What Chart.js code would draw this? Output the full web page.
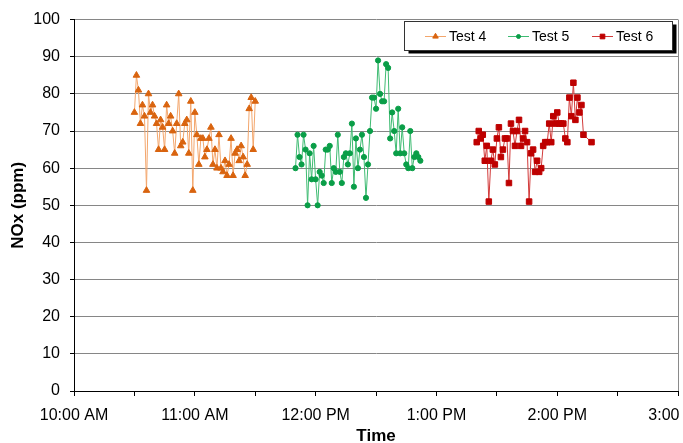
<!DOCTYPE html>
<html><head><meta charset="utf-8">
<script src="https://cdn.jsdelivr.net/npm/chart.js@4/dist/chart.umd.min.js"></script>
<style>html,body{margin:0;padding:0;background:#fff}#wrap{width:683px;height:443px}</style>
</head><body><div id="wrap"><canvas id="c" width="683" height="443"></canvas></div>
<script>
// ---- data ----
const seriesNames = ["Test 4", "Test 5", "Test 6"];
const sampleIntervalMin = 1;

const test4Start = "10:30";
const test4Values = [75, 85, 81, 72, 77, 74, 54, 80, 75, 77, 74, 72, 65, 73, 71, 65, 77, 72, 74, 70,
  64, 72, 80, 66, 67, 72, 73, 64, 78, 54, 75, 69, 61, 68, 68, 63, 65, 68, 71, 61,
  65, 60, 69, 60, 59, 62, 58, 61, 68, 58, 64, 65, 62, 66, 63, 58, 61, 76, 79, 65, 78];

const test5Start = "11:50";
const test5Values = [60, 69, 63, 61, 69, 65, 50, 64, 57, 66, 57, 50, 59, 58, 56, 65, 65, 66, 56, 60,
  59, 69, 59, 56, 63, 64, 61, 64, 72, 55, 68, 60, 65, 69, 63, 52, 61, 70, 79, 79,
  76, 89, 80, 78, 78, 88, 87, 68, 75, 70, 64, 76, 64, 71, 64, 61, 60, 70, 60, 63, 64, 63, 62];

const test6Start = "13:20";
const test6Values = [67, 70, 68, 69, 62, 66, 51, 62, 65, 61, 68, 71, 63, 65, 68, 68, 56, 72, 70, 66,
  70, 73, 66, 68, 70, 67, 51, 64, 65, 59, 62, 59, 60, 66, 67, 67, 72, 67, 74, 72,
  75, 72, 72, 72, 68, 67, 79, 74, 83, 73, 79, 75, 77, 69];
const test6FinalTime = "14:17";
const test6FinalValue = 67;

const xTickLabels = ["10:00 AM", "11:00 AM", "12:00 PM", "1:00 PM", "2:00 PM", "3:00 PM"];
const xStart = "10:00", xEnd = "15:00";
const yMin = 0, yMax = 100, yStep = 10;

// ---- helpers ----
function toMin(t) { const [h, m] = t.split(":").map(Number); return h * 60 + m; }
function series(start, values) {
  const s = toMin(start);
  return values.map((v, i) => ({ x: s + i * sampleIntervalMin, y: v }));
}
const d4 = series(test4Start, test4Values);
const d5 = series(test5Start, test5Values);
const d6 = series(test6Start, test6Values).concat([{ x: toMin(test6FinalTime), y: test6FinalValue }]);

const styles = [
  { line: "#F3A66C", mark: "#D9640F", shape: "triangle", r: 3.8 },
  { line: "#3EBB72", mark: "#0A9E48", shape: "circle", r: 2.6 },
  { line: "#D23A3A", mark: "#BE0000", shape: "rect", r: 3.9 }
];

const FONT = "'Liberation Sans', Arial, sans-serif";
Chart.defaults.font.family = FONT;
Chart.defaults.color = "#000";

function mkDataset(i, data) {
  const s = styles[i];
  return {
    label: seriesNames[i], data,
    borderColor: s.line, borderWidth: 1,
    pointStyle: s.shape, pointRadius: s.r, pointHoverRadius: s.r,
    pointBackgroundColor: s.mark, pointBorderColor: s.mark, pointBorderWidth: 1,
    showLine: true, tension: 0, fill: false
  };
}

function drawMarker(ctx, shape, x, y, r, color) {
  ctx.save();
  ctx.fillStyle = color; ctx.strokeStyle = color; ctx.lineWidth = 1;
  ctx.beginPath();
  if (shape === "triangle") {
    ctx.moveTo(x, y - r); ctx.lineTo(x + r * 0.866, y + r * 0.5); ctx.lineTo(x - r * 0.866, y + r * 0.5); ctx.closePath();
  } else if (shape === "circle") {
    ctx.arc(x, y, r, 0, Math.PI * 2);
  } else {
    const s = r * Math.SQRT1_2; ctx.rect(x - s, y - s, 2 * s, 2 * s);
  }
  ctx.fill(); ctx.stroke();
  ctx.restore();
}

const legendPlugin = {
  id: "boxLegend",
  afterDraw(chart) {
    const ctx = chart.ctx;
    const bx = 404.5, by = 21.5, bw = 268, bh = 29;
    ctx.save();
    ctx.fillStyle = "#000";
    ctx.fillRect(bx + 4, by + 3, bw, bh);
    ctx.fillStyle = "#fff";
    ctx.fillRect(bx, by, bw, bh);
    ctx.strokeStyle = "#333"; ctx.lineWidth = 1;
    ctx.strokeRect(bx, by, bw, bh);
    const cy = by + bh / 2 + 0.5;
    const itemX = [425, 508, 592];
    ctx.font = "14px " + FONT;
    ctx.textBaseline = "middle";
    for (let i = 0; i < 3; i++) {
      const s = styles[i];
      ctx.strokeStyle = s.line; ctx.lineWidth = 1;
      ctx.beginPath(); ctx.moveTo(itemX[i], cy); ctx.lineTo(itemX[i] + 21, cy); ctx.stroke();
      drawMarker(ctx, s.shape, itemX[i] + 10.5, cy, s.r - 0.6, s.mark);
      ctx.fillStyle = "#000";
      ctx.fillText(seriesNames[i], itemX[i] + 24, cy + 1);
    }
    ctx.restore();
  }
};

new Chart(document.getElementById("c"), {
  type: "scatter",
  data: { datasets: [mkDataset(0, d4), mkDataset(1, d5), mkDataset(2, d6)] },
  options: {
    responsive: false, animation: false, devicePixelRatio: 1,
    layout: { padding: { top: 19, right: 3.5, left: 0, bottom: 0 } },
    plugins: { legend: { display: false }, tooltip: { enabled: false } },
    scales: {
      x: {
        type: "linear", min: toMin(xStart), max: toMin(xEnd),
        ticks: {
          stepSize: 30, autoSkip: false, maxRotation: 0, padding: 10,
          font: { size: 16 }, color: "#000",
          callback: (v) => (v - toMin(xStart)) % 60 === 0 ? xTickLabels[(v - toMin(xStart)) / 60] : ""
        },
        grid: {
          drawOnChartArea: true, tickLength: 5, tickColor: "#000",
          color: (c) => (c.tick && c.tick.value === toMin(xEnd)) ? "#8a8a8a" : "rgba(0,0,0,0)"
        },
        border: { color: "#000", width: 1 },
        title: { display: true, text: "Time", font: { size: 17, weight: "bold", lineHeight: 1 }, padding: { top: 0, bottom: -2 }, color: "#000" },
        afterFit(s) { s.height = 52; s.paddingLeft = 0; s.paddingRight = 0; }
      },
      y: {
        min: yMin, max: yMax,
        ticks: { stepSize: yStep, padding: 10, font: { size: 16 }, color: "#000" },
        grid: { color: "#868686", tickColor: "#000", tickLength: 4 },
        border: { color: "#000", width: 1 },
        title: { display: true, text: "NOx (ppm)", font: { size: 17, weight: "bold", lineHeight: 1 }, padding: { top: 10, bottom: 0 }, color: "#000" },
        afterFit(s) { s.width = 74; }
      }
    }
  },
  plugins: [legendPlugin]
});
</script>
</body></html>
